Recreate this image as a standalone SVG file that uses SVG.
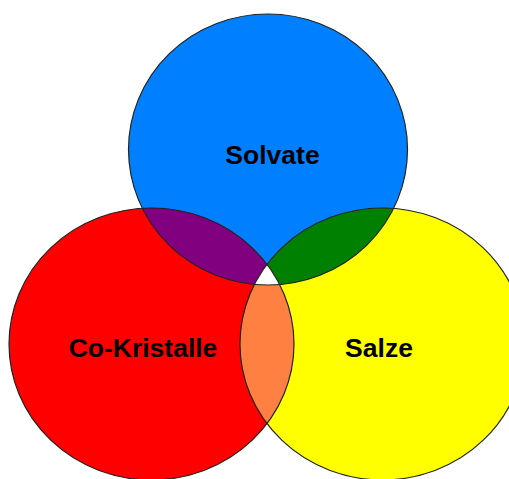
<svg xmlns="http://www.w3.org/2000/svg" width="509" height="479" viewBox="0 0 509 479">
<style>
.outline{fill:none;stroke:#222;stroke-width:1.2}
.lbl{font-family:"Liberation Sans",Arial,sans-serif;font-weight:bold;font-size:26.5px;fill:#000;text-anchor:middle}
</style>
<defs>
<clipPath id="cBlue"><ellipse cx="268" cy="149.5" rx="139.5" ry="135.5"/></clipPath>
<clipPath id="cRed"><ellipse cx="151.5" cy="344" rx="142.5" ry="136"/></clipPath>
<clipPath id="cYellow"><ellipse cx="382.5" cy="344" rx="142.5" ry="136"/></clipPath>
</defs>
<rect width="509" height="479" fill="#fff"/>
<g id="solvate"><ellipse cx="268" cy="149.5" rx="139.5" ry="135.5" fill="#0080ff"/></g>
<g id="co-kristalle"><ellipse cx="151.5" cy="344" rx="142.5" ry="136" fill="#ff0000"/></g>
<g id="salze"><ellipse cx="382.5" cy="344" rx="142.5" ry="136" fill="#ffff00"/></g>
<g id="overlaps">
<ellipse cx="151.5" cy="344" rx="142.5" ry="136" fill="#800080" clip-path="url(#cBlue)"/>
<ellipse cx="382.5" cy="344" rx="142.5" ry="136" fill="#008000" clip-path="url(#cBlue)"/>
<ellipse cx="382.5" cy="344" rx="142.5" ry="136" fill="#ff8040" clip-path="url(#cRed)"/>
<g clip-path="url(#cBlue)"><ellipse cx="382.5" cy="344" rx="142.5" ry="136" fill="#fff" clip-path="url(#cRed)"/></g>
</g>
<g id="outlines">
<ellipse class="outline" cx="268" cy="149.5" rx="139.5" ry="135.5"/>
<ellipse class="outline" cx="151.5" cy="344" rx="142.5" ry="136"/>
<ellipse class="outline" cx="382.5" cy="344" rx="142.5" ry="136"/>
</g>
<g id="labels">
<text class="lbl" x="272.5" y="164">Solvate</text>
<text class="lbl" x="143" y="357">Co-Kristalle</text>
<text class="lbl" x="379" y="357">Salze</text>
</g>
</svg>
